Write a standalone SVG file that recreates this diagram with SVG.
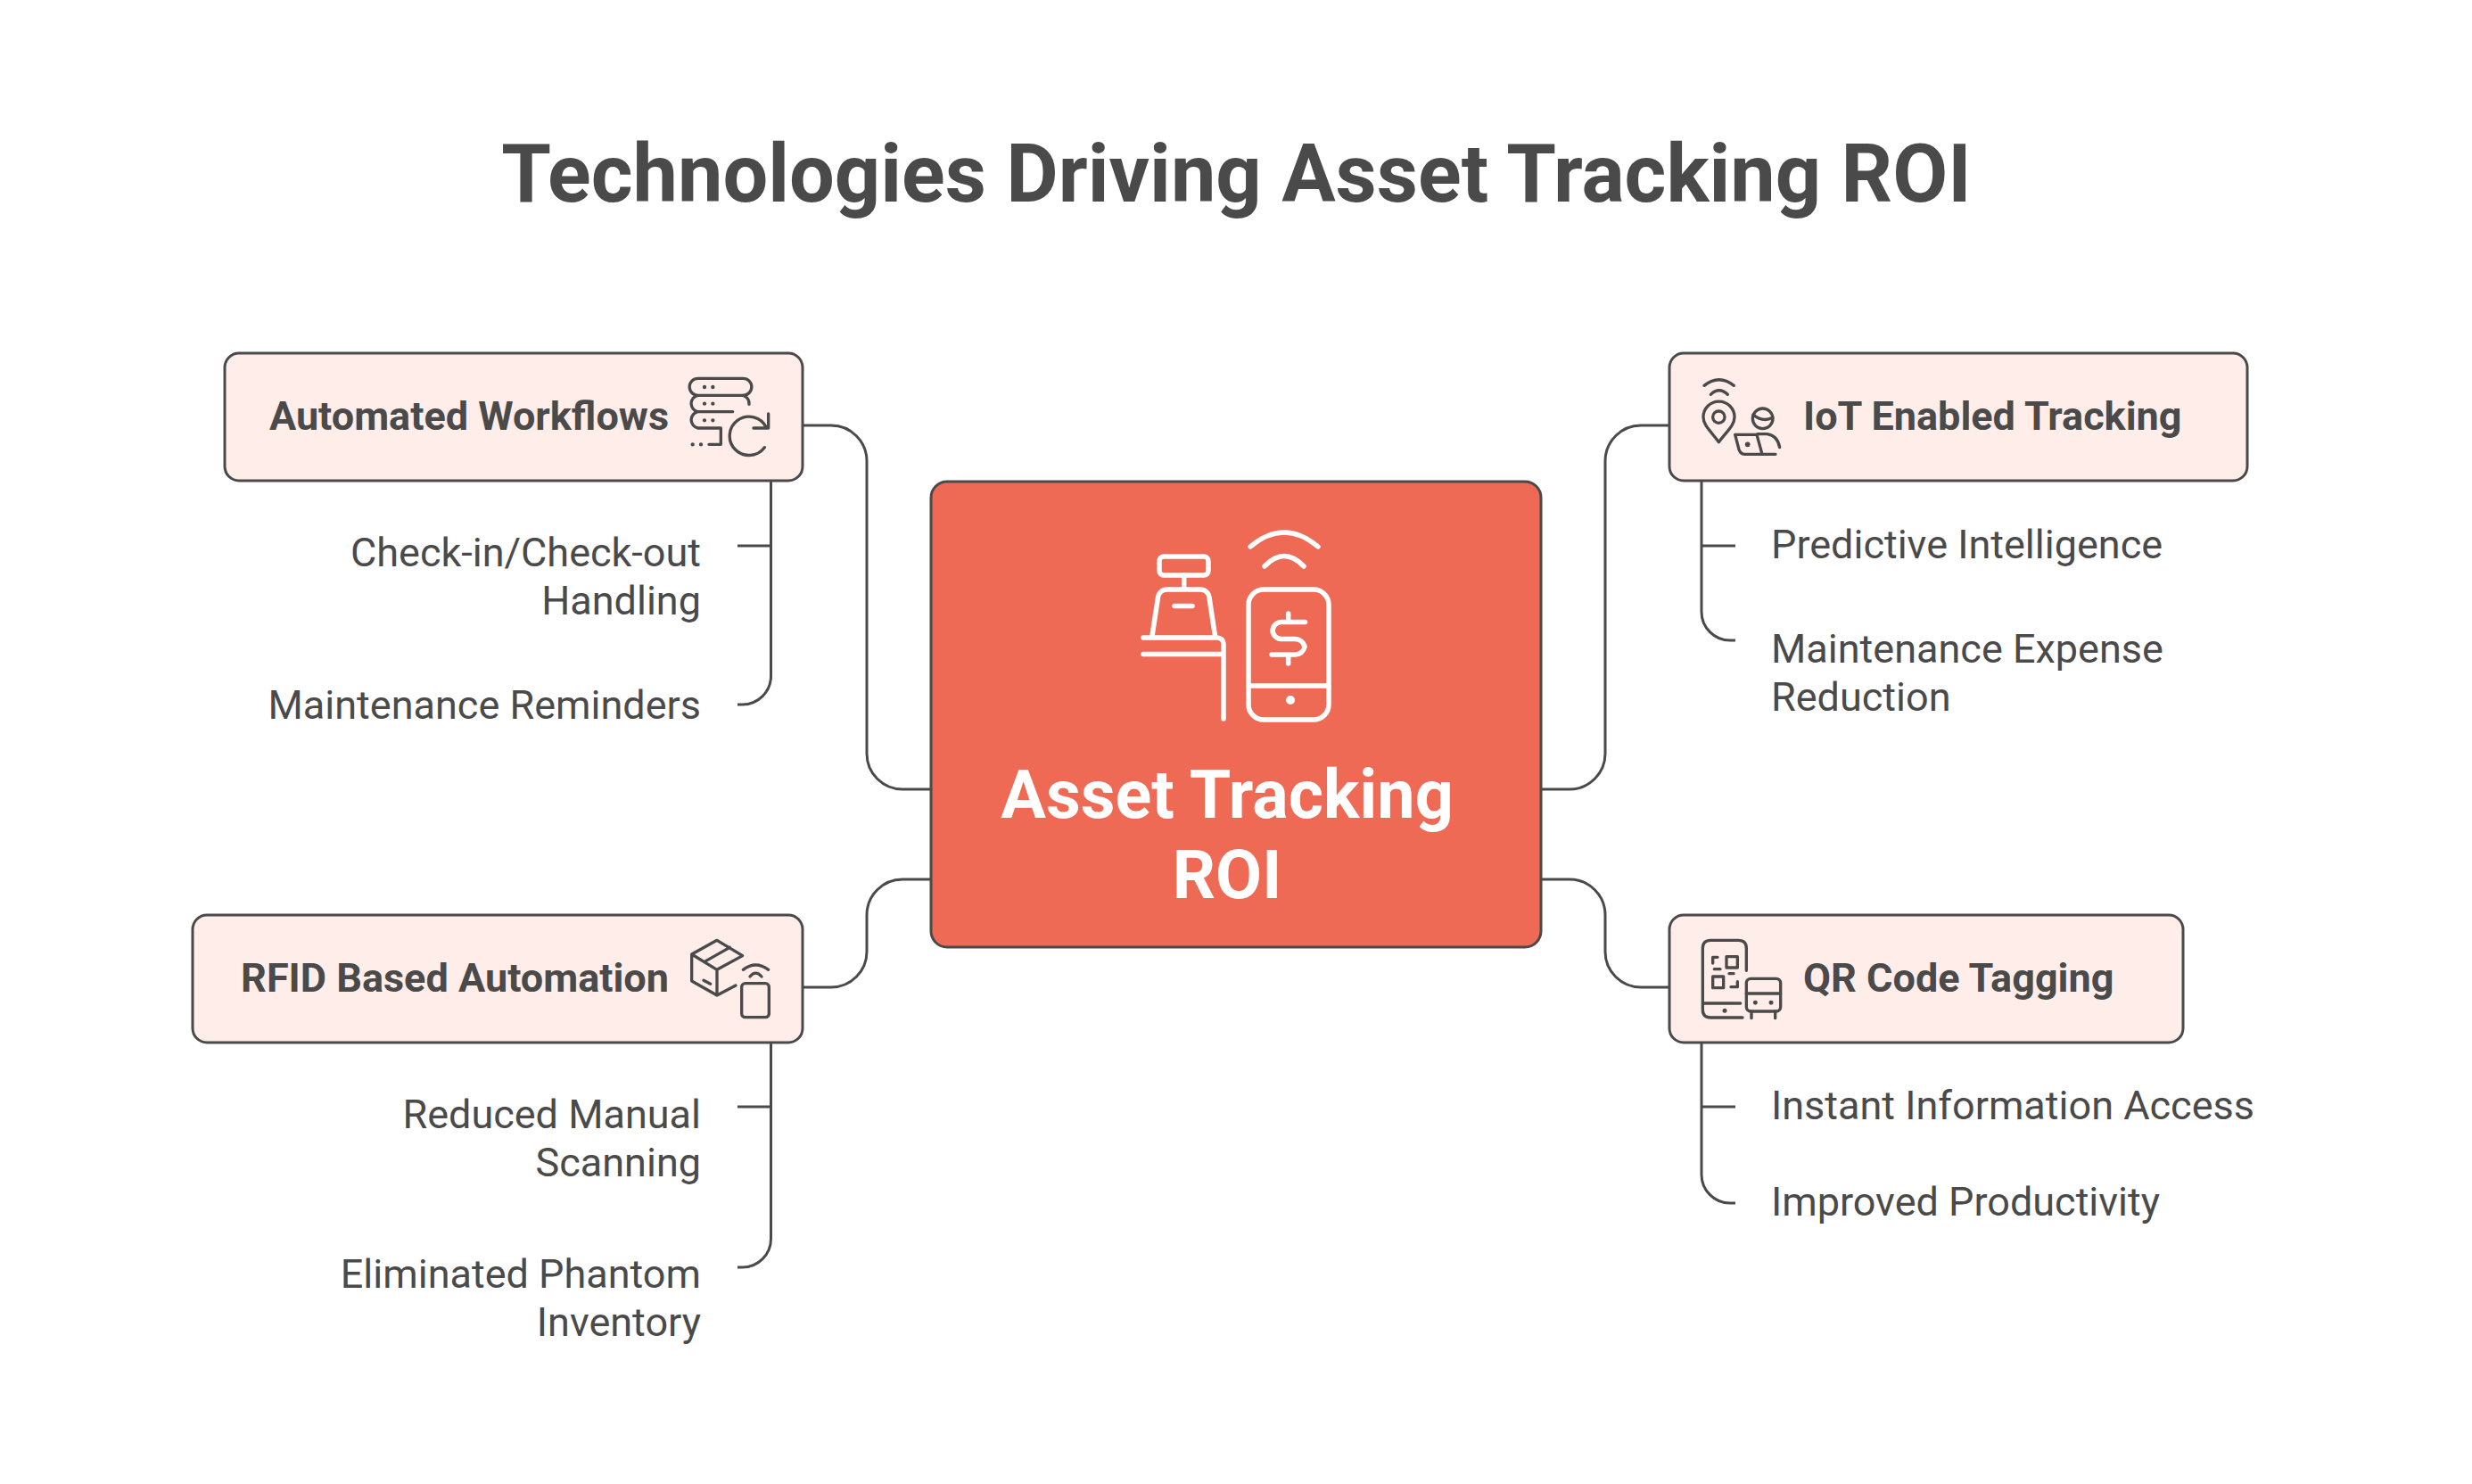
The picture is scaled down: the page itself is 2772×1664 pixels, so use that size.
<svg xmlns="http://www.w3.org/2000/svg" width="2772" height="1664" viewBox="0 0 2772 1664">
<style>
text{font-family:Roboto,"Liberation Sans",sans-serif;fill:#4A4A4A}
.title{font-size:90px;font-weight:700;text-anchor:middle}
.head{font-size:45px;font-weight:700}
.sub{font-size:45px;font-weight:400}
.end{text-anchor:end}
.card{fill:#FFEDE9;stroke:#4A4A4A;stroke-width:3}
.hub{fill:#EE6A54;stroke:#4A4A4A;stroke-width:3}
.hubt{font-size:75.500px;font-weight:700;text-anchor:middle;fill:#fff}
.wire{fill:none;stroke:#4A4A4A;stroke-width:3}
.ic{fill:none;stroke:#4A4A4A;stroke-width:3.4;stroke-linecap:round;stroke-linejoin:round}
.icw{fill:none;stroke:#fff;stroke-width:5.5;stroke-linecap:round;stroke-linejoin:round}
</style>
<rect width="2772" height="1664" fill="#fff"/>
<text class="title" x="1386.500" y="226">Technologies Driving Asset Tracking ROI</text>
<g id="connectors" class="wire">
<path d="M1044 885H1012a40 40 0 0 1-40-40V517a40 40 0 0 0-40-40H900"/>
<path d="M1044 986H1012a40 40 0 0 0-40 40v41a40 40 0 0 1-40 40H900"/>
<path d="M1728 885H1760a40 40 0 0 0 40-40V517a40 40 0 0 1 40-40H1872"/>
<path d="M1728 986H1760a40 40 0 0 1 40 40v41a40 40 0 0 0 40 40H1872"/>
<path d="M864.500 539V758a32 32 0 0 1-32 32H827M827 612H864.500"/>
<path d="M864.500 1169V1389a32 32 0 0 1-32 32H827M827 1241H864.500"/>
<path d="M1908 539V686a32 32 0 0 0 32 32H1946M1946 612H1908"/>
<path d="M1908 1169V1317a32 32 0 0 0 32 32H1946M1946 1241H1908"/>
</g>
<g id="hub">
<rect class="hub" x="1044" y="540" width="684" height="522" rx="18"/>
<g class="icw">
<path d="M1402 613Q1440 581 1478 613M1418 635Q1440 612 1462 635"/>
<rect x="1400" y="661" width="90" height="146" rx="17"/>
<path d="M1400 769H1490"/>
<path d="M1444.700 688V697M1463.500 697.500H1437a10 10 0 0 0-10 9.500v0a10 10 0 0 0 10 9.500H1452a11 11 0 0 1 11 9v0a11 11 0 0 1-11 8.500H1426M1444.700 734V744"/>
<rect x="1300" y="624" width="55" height="21" rx="5"/>
<path d="M1327.700 645V660M1292 713L1298.500 670a10 10 0 0 1 10-9H1346a10 10 0 0 1 10 9L1362.500 713M1317 679.500H1337M1282 715H1365a7 7 0 0 1 7 7V806M1282 733.600H1371"/>
</g>
<circle cx="1447" cy="785" r="5" fill="#fff"/>
<text class="hubt" x="1376" y="917">Asset Tracking</text>
<text class="hubt" x="1376" y="1007">ROI</text>
</g>
<g id="automated-workflows">
<rect class="card" x="252" y="396" width="648" height="143" rx="16"/>
<text class="head end" x="750" y="482">Automated Workflows</text>
<g transform="translate(740 390) scale(.3333)" class="ic" style="stroke-width:10">
<path d="M128 103H280a28 28 0 0 1 0 57H128a28 28 0 0 1 0-57ZM128 160a28 28 0 0 0 0 55H245M280 160a28 28 0 0 1 20 30M128 215a28 28 0 0 0 0 55H205V325H165"/>
<path d="M365 222V270H315M352 335A65 65 0 1 1 358 268"/>
<path d="M150 132h.1M178 132h.1M150 188h.1M178 188h.1M150 244h.1M178 244h.1M110 325h.1M138 325h.1" style="stroke-width:13"/>
</g>
</g>
<g id="check-in"><text class="sub end" x="786" y="635">Check-in/Check-out</text><text class="sub end" x="786" y="689">Handling</text></g>
<g id="maintenance-reminders"><text class="sub end" x="786" y="806">Maintenance Reminders</text></g>
<g id="iot-tracking">
<rect class="card" x="1872" y="396" width="648" height="143" rx="16"/>
<text class="head" x="2022" y="482">IoT Enabled Tracking</text>
<g transform="translate(1880 400) scale(.3333)" class="ic" style="stroke-width:10">
<path d="M93 97Q143 57 193 97M115 127Q143 100 172 127"/>
<circle cx="142" cy="203" r="20"/>
<path d="M142 287C115 250 90 230 90 203a52 52 0 0 1 105 0C195 230 170 250 142 287Z"/>
<circle cx="290" cy="208" r="34"/>
<path d="M258 195Q290 222 323 205M197 262H270L288 328H230Q215 328 210 312ZM272 260H305Q340 265 347 305M288 328H333"/>
<path d="M239 295h.1" style="stroke-width:17"/>
</g>
</g>
<g id="predictive"><text class="sub" x="1986" y="626">Predictive Intelligence</text></g>
<g id="maintenance-expense"><text class="sub" x="1986" y="743">Maintenance Expense</text><text class="sub" x="1986" y="797">Reduction</text></g>
<g id="rfid-automation">
<rect class="card" x="216" y="1026" width="684" height="143" rx="16"/>
<text class="head end" x="750" y="1112">RFID Based Automation</text>
<g transform="translate(750 1030) scale(.3333)" class="ic" style="stroke-width:10">
<path d="M162 73L248 125L162 172L77 120ZM77 120V210L162 258V172M162 258L225 225M120 145L205 97M117 208L140 220"/>
<path d="M250 172Q292 140 335 172M273 195Q292 172 312 195"/>
<rect x="245" y="218" width="92" height="114" rx="12"/>
</g>
</g>
<g id="reduced-scanning"><text class="sub end" x="786" y="1265">Reduced Manual</text><text class="sub end" x="786" y="1319">Scanning</text></g>
<g id="phantom-inventory"><text class="sub end" x="786" y="1444">Eliminated Phantom</text><text class="sub end" x="786" y="1498">Inventory</text></g>
<g id="qr-tagging">
<rect class="card" x="1872" y="1026" width="576" height="143" rx="16"/>
<text class="head" x="2022" y="1112">QR Code Tagging</text>
<g transform="translate(1890 1035) scale(.3333)" class="ic" style="stroke-width:10">
<path d="M205 160V85Q205 58 178 58H85Q58 58 58 85V292Q58 318 85 318H192M58 270H185"/>
<rect x="138" y="113" width="37" height="37"/>
<rect x="92" y="180" width="36" height="38"/>
<path d="M108 115H92V135M97 155H117M147 170H162M175 197V215H153"/>
<rect x="205" y="187" width="115" height="110" rx="15"/>
<path d="M205 237H320M222 297V320M302 297V320"/>
<path d="M132 295h.1M235 268h.1M288 268h.1" style="stroke-width:15"/>
</g>
</g>
<g id="instant-access"><text class="sub" x="1986" y="1255">Instant Information Access</text></g>
<g id="improved-productivity"><text class="sub" x="1986" y="1363">Improved Productivity</text></g>
</svg>
